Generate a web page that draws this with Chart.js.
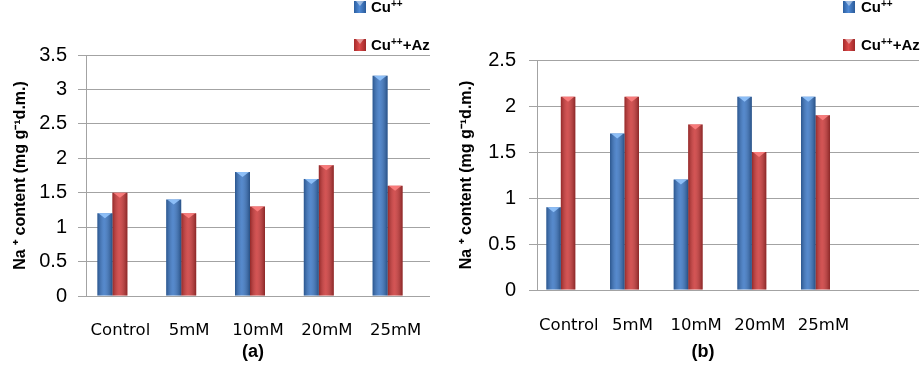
<!DOCTYPE html>
<html>
<head>
<meta charset="utf-8">
<script src="https://cdn.jsdelivr.net/npm/chart.js@4.4.1/dist/chart.umd.min.js"></script>
<style>
  body { margin: 0; background: #fff; width: 924px; height: 366px; overflow: hidden; position: relative; }
  canvas { position: absolute; top: 0; }
  #chartA { left: 0; }
  #chartB { left: 455px; }
  .leg { position: absolute; font: bold 15px "Liberation Sans", Arial, sans-serif; color: #000; white-space: nowrap; }
  .leg sup { font-size: 10px; vertical-align: 5px; line-height: 0; }
  .sq { position: absolute; width: 12px; height: 12px; }
  .sq:after { content: ""; position: absolute; left: 2px; top: 0; border-left: 4px solid transparent; border-right: 4px solid transparent; border-top: 5px solid rgba(255,255,255,0.45); }
  .blue { background: linear-gradient(to right, #2b5e9f, #4f8ad6 45%, #2a5a98); }
  .red { background: linear-gradient(to right, #a52a2a, #dc4a4a 45%, #9e2727); }
</style>
</head>
<body>
<canvas id="chartA" width="462" height="366"></canvas>
<canvas id="chartB" width="469" height="366"></canvas>
<div id="legendA"></div>
<div id="legendB"></div>
<script>
/* data */
const labelsA = ['Control', '5mM', '10mM', '20mM', '25mM'];
const labelsB = ['Control', '5mM', '10mM', '20mM', '25mM', ''];
const seriesNames = ['Cu++', 'Cu++ +Az'];
const cuA = [1.2, 1.4, 1.8, 1.7, 3.2];
const cuAzA = [1.5, 1.2, 1.3, 1.9, 1.6];
const cuB = [0.9, 1.7, 1.2, 2.1, 2.1];
const cuAzB = [2.1, 2.1, 1.8, 1.5, 1.9];
const yTitle = 'Na \u207A content (mg g\u207B\u00B9d.m.)';

const blue = '#3a76c4';
const red = '#cc3838';
const gridColor = '#a3a3a3';

/* excel-like bar look: shifted a bit left, shaded, with a light triangle on top */
const barLook = {
  id: 'barLook',
  beforeDatasetsDraw(chart) {
    chart.ctx.save();
    chart.ctx.translate(-8, 0);
  },
  afterDatasetsDraw(chart) {
    const ctx = chart.ctx;
    chart.data.datasets.forEach((ds, i) => {
      const meta = chart.getDatasetMeta(i);
      meta.data.forEach(el => {
        if (el.skip || el.y == null || isNaN(el.y)) return;
        const {x, y, base, width} = el.getProps(['x', 'y', 'base', 'width'], true);
        const l = x - width / 2;
        const g = ctx.createLinearGradient(l, 0, l + width, 0);
        g.addColorStop(0, 'rgba(0,0,0,0.28)');
        g.addColorStop(0.45, 'rgba(255,255,255,0.14)');
        g.addColorStop(1, 'rgba(0,0,0,0.32)');
        ctx.fillStyle = g;
        ctx.fillRect(l, y, width, base - y);
        ctx.fillStyle = i === 0 ? 'rgba(150,200,255,0.85)' : 'rgba(255,130,130,0.85)';
        ctx.beginPath();
        ctx.moveTo(l + 1, y);
        ctx.lineTo(l + width - 1, y);
        ctx.lineTo(x, y + 5);
        ctx.closePath();
        ctx.fill();
      });
    });
    ctx.restore();
  }
};

function makeChart(id, labels, cu, cuAz, cfg) {
  return new Chart(document.getElementById(id), {
    type: 'bar',
    data: {
      labels: labels,
      datasets: [
        { label: seriesNames[0], data: cu, backgroundColor: blue },
        { label: seriesNames[1], data: cuAz, backgroundColor: red }
      ]
    },
    options: {
      responsive: false,
      animation: false,
      categoryPercentage: cfg.catPct,
      barPercentage: 1,
      layout: { padding: { top: cfg.top, right: cfg.right, bottom: 0, left: 0 } },
      plugins: { legend: { display: false }, tooltip: { enabled: false } },
      scales: {
        x: {
          grid: { display: false },
          border: { display: false },
          ticks: { color: '#000', padding: cfg.xPad, maxRotation: 0, font: { family: 'DejaVu Sans', size: 16.5 } },
          // trailing spaces nudge the letter left like in the original figure
          title: { display: true, text: cfg.letter + '\u00A0'.repeat(cfg.letterNudge), color: '#000',
                   padding: { top: 0, bottom: 3 },
                   font: { family: 'Liberation Sans', size: 18, weight: 'bold' } },
          afterFit(scale) { scale.height = cfg.xh; }
        },
        y: {
          min: 0,
          max: cfg.max,
          ticks: { stepSize: 0.5, color: '#000', padding: cfg.tickPad,
                   callback: v => String(v),
                   font: { family: 'Liberation Sans', size: 20 } },
          grid: { color: gridColor, lineWidth: 1, tickLength: 8 },
          border: { display: true, color: gridColor, width: 1 },
          title: { display: true, text: yTitle, color: '#000', padding: { top: cfg.titlePad, bottom: 0 },
                   font: { family: 'Liberation Sans', size: 16, weight: 'bold' } },
          afterFit(scale) { scale.width = cfg.yw; }
        }
      }
    },
    plugins: [barLook]
  });
}

makeChart('chartA', labelsA, cuA, cuAzA,
  { catPct: 0.436, top: 55, right: 32, xh: 70, yw: 86, tickPad: 11, titlePad: 11, xPad: 17, max: 3.5,
    letter: '(a)', letterNudge: 2 });
makeChart('chartB', labelsB, cuB, cuAzB,
  { catPct: 0.455, top: 60, right: 5, xh: 76, yw: 82, tickPad: 13, titlePad: 2, xPad: 18, max: 2.5,
    letter: '(b)', letterNudge: 10 });

/* legends */
function legend(id, sqLeft, textLeft) {
  const box = document.getElementById(id);
  const cls = ['blue', 'red'];
  const tops = [1, 39];
  seriesNames.forEach((name, i) => {
    const sq = document.createElement('div');
    sq.className = 'sq ' + cls[i];
    sq.style.left = sqLeft + 'px';
    sq.style.top = tops[i] + 'px';
    box.appendChild(sq);
    const t = document.createElement('div');
    t.className = 'leg';
    t.style.left = textLeft + 'px';
    t.style.top = (tops[i] - 3) + 'px';
    t.innerHTML = i === 0 ? 'Cu<sup>++</sup>' : 'Cu<sup>++</sup>+Az';
    box.appendChild(t);
  });
}
legend('legendA', 354, 371);
legend('legendB', 843, 861);
</script>
</body>
</html>
